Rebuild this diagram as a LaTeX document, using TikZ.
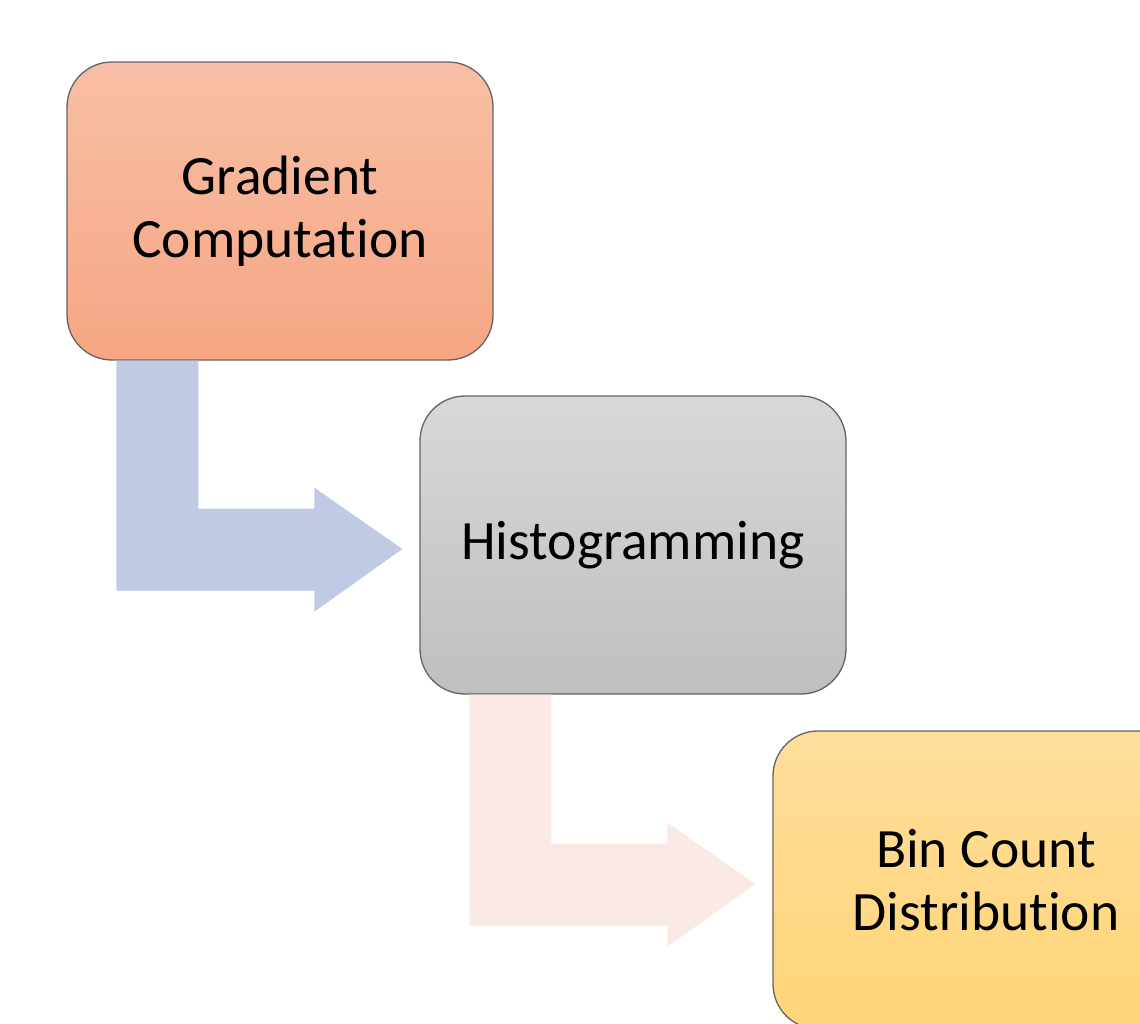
\documentclass[tikz,border=0pt]{standalone}
\usepackage{fontspec}
\setmainfont{Carlito}[Ligatures={NoCommon}]
\usetikzlibrary{calc}
\definecolor{boxline}{RGB}{100,100,100}
\definecolor{orangetop}{RGB}{248,191,166}
\definecolor{orangebot}{RGB}{246,166,131}
\definecolor{graytop}{RGB}{216,216,216}
\definecolor{graybot}{RGB}{191,191,191}
\definecolor{yellowtop}{RGB}{255,222,157}
\definecolor{yellowbot}{RGB}{255,213,120}
\definecolor{bluearrow}{RGB}{192,202,228}
\definecolor{pinkarrow}{RGB}{250,233,228}
\tikzset{
  stage/.style={draw=boxline, line width=1.3pt, rounded corners=45pt,
    minimum width=426pt, minimum height=298pt, inner sep=0pt,
    align=center, font=\fontsize{55.5}{63}\selectfont}
}
\begin{document}
\begin{tikzpicture}[x=1pt,y=-1pt]
\useasboundingbox (0,0) rectangle (1140,1023);
\fill[white] (0,0) rectangle (1140,1023);
\node[stage, top color=orangetop, bottom color=orangebot] (grad) at (280,211) {Gradient\\Computation};
\node[stage, top color=graytop, bottom color=graybot] (hist) at (633,545) {Histogramming};
\node[stage, top color=yellowtop, bottom color=yellowbot] (bin) at (986,880) {Bin Count\\Distribution};
% bent arrow 1
\fill[bluearrow]
  ($(grad.south west)+(50,0)$) coordinate (a1s)
  -- ($(grad.south west)+(132,0)$)
  -- ($(grad.south west)+(132,148)$)
  -- ($(grad.south west)+(248,148)$)
  -- ($(grad.south west)+(248,127)$)
  -- ($(hist.west)+(-17,4)$) coordinate (a1t)
  -- ($(grad.south west)+(248,251)$)
  -- ($(grad.south west)+(248,230)$)
  -- ($(grad.south west)+(50,230)$) -- cycle;
% bent arrow 2
\fill[pinkarrow]
  ($(hist.south west)+(50,0)$) coordinate (a2s)
  -- ($(hist.south west)+(132,0)$)
  -- ($(hist.south west)+(132,149)$)
  -- ($(hist.south west)+(248,149)$)
  -- ($(hist.south west)+(248,128)$)
  -- ($(bin.west)+(-17,4)$) coordinate (a2t)
  -- ($(hist.south west)+(248,252)$)
  -- ($(hist.south west)+(248,231)$)
  -- ($(hist.south west)+(50,231)$) -- cycle;
\end{tikzpicture}
\end{document}
